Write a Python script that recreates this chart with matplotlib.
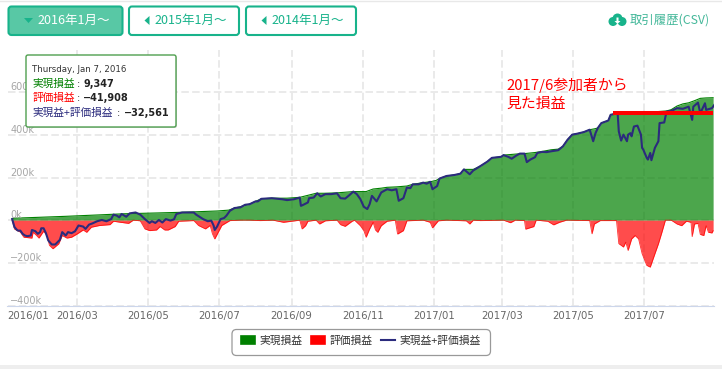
import matplotlib
matplotlib.use('Agg')
import matplotlib.pyplot as plt
import pandas as pd
from matplotlib.lines import Line2D
from matplotlib.patches import Patch, FancyBboxPatch, Circle, Polygon

plt.rcParams['font.family'] = ['Noto Sans CJK JP', 'DejaVu Sans']

# values in thousands, days counted from 2016/01/01
start = pd.Timestamp('2016-01-01')

realized_days = [4, 6, 20, 50, 80, 100, 130, 150, 165, 180, 190, 195, 200, 208, 213, 218, 227, 240,
                 251, 265, 272, 283, 297, 308, 314, 321, 326, 334, 343, 348, 357, 363, 368, 371, 377,
                 384, 389, 392, 400, 406, 412, 416, 424, 426, 437, 444, 453, 459, 467, 473, 477, 481,
                 485, 489, 495, 500, 504, 507, 510, 516, 518, 524, 540, 556, 566, 570, 575, 580, 585,
                 590, 595, 600, 606]
realized = [8, 9.3, 12, 18, 25, 30, 34, 37, 40, 43, 47, 57, 63, 75, 88, 100, 103, 103,
            107, 126, 126, 128, 134, 134, 146, 150, 154, 156, 160, 168, 176, 180, 186, 195, 207,
            212, 218, 238, 238, 253, 274, 292, 297, 305, 310, 312, 317, 322, 330, 333, 346, 377,
            401, 405, 413, 424, 428, 432, 455, 467, 494, 501, 505, 508, 512, 518, 535, 545, 550,
            560, 571, 573, 574]

unrealized_days = [4, 6, 11, 14, 21, 22, 25, 27, 31, 34, 36, 39, 44, 47, 51, 55, 60, 65, 68, 72,
                   79, 88, 91, 97, 104, 108, 114, 118, 122, 128, 131, 135, 138, 144, 147, 160, 164,
                   170, 174, 176, 178, 181, 184, 191, 200, 208, 217, 228, 237, 244, 251, 253, 256,
                   258, 265, 268, 273, 283, 286, 290, 296, 298, 303, 306, 308, 311, 314, 316, 318,
                   321, 326, 333, 335, 340, 343, 357, 363, 365, 370, 377, 394, 397, 400, 406, 426,
                   432, 436, 444, 445, 452, 454, 464, 469, 474, 480, 500, 502, 504, 509, 523, 525,
                   529, 531, 533, 536, 539, 542, 545, 549, 552, 556, 559, 562, 565, 570, 575, 579,
                   583, 587, 588, 590, 593, 595, 598, 600, 602, 605, 606]
unrealized = [0, -41.9, -56, -80, -84, -57, -72, -84, -52, -72, -118, -134, -111, -72, -84, -80, -64,
              -46, -57, -33, -25, -21, -5, -10, -15, 0, -3, -41, -49, -46, -30, -46, -46, -30, -5,
              -2, -25, -41, -25, -64, -88, -57, -25, -2, 0, 0, -2, 0, -10, -5, 0, -41, -26, -5, 0,
              -18, -3, 0, -21, -29, -5, 0, -26, -49, -80, -41, -10, -46, -57, -26, -5, 0, -65, -49,
              -3, 0, -10, -36, -3, 0, -3, -18, 0, -2, 0, -12, 0, -2, -42, -30, 0, -5, -22, -10, 0,
              -2, -64, -18, -2, -2, -110, -126, -103, -142, -88, -72, -88, -157, -212, -220, -157,
              -111, -57, 0, 0, -18, -26, -5, -10, -77, -18, -15, -67, -72, -26, -57, -60, -49]

total_days = [4, 6, 8, 9, 11, 13, 15, 17, 20, 21, 24, 26, 28, 29, 31, 33, 35, 38, 41, 45, 47, 50, 52,
              55, 58, 61, 65, 67, 70, 73, 77, 81, 85, 89, 91, 94, 96, 98, 102, 105, 110, 114, 118,
              122, 124, 127, 130, 133, 136, 140, 143, 145, 150, 160, 162, 168, 172, 175, 177, 178,
              180, 183, 186, 188, 191, 195, 200, 204, 208, 213, 215, 218, 227, 236, 240, 246, 251,
              252, 254, 258, 259, 263, 266, 269, 273, 278, 283, 286, 290, 294, 297, 300, 303, 306,
              309, 311, 313, 317, 321, 326, 330, 334, 336, 340, 343, 346, 348, 353, 357, 360, 363,
              365, 369, 371, 377, 384, 389, 392, 397, 400, 406, 412, 416, 424, 426, 430, 433, 437,
              440, 444, 446, 449, 453, 455, 459, 463, 467, 473, 477, 481, 485, 489, 495, 500, 503,
              505, 507, 510, 516, 518, 524, 525, 527, 529, 532, 533, 535, 536, 538, 541, 544, 545,
              546, 549, 550, 552, 553, 556, 559, 560, 564, 566, 570, 575, 580, 585, 588, 589, 593,
              595, 599, 600, 605, 607]
total = [5, -32.6, -45, -49, -49, -64, -72, -75, -72, -46, -52, -64, -56, -38, -38, -61, -95, -114,
         -114, -92, -56, -72, -56, -61, -52, -25, -30, -41, -21, -15, -5, 1, -5, 5, 26, 21, 13, 29,
         16, 32, 36, 26, 5, -13, -5, -13, 1, -11, 5, -2, 4, 29, 36, 36, 26, 5, -5, -2, -25, -46,
         -30, 5, 10, 21, 44, 57, 60, 72, 75, 88, 88, 100, 103, 98, 94, 98, 106,
         67, 72, 83, 103, 106, 126, 111, 122, 122, 126, 103, 101, 119, 134, 122, 99, 63,
         52, 75, 114, 88, 130, 145, 140, 145, 91, 103, 153, 150, 168, 168, 176, 171, 180,
         145, 160, 195, 207, 212, 218, 238, 215, 233, 253, 274, 292, 297, 305, 297, 288, 303,
         312, 312, 272, 284, 295, 315, 320, 319, 323, 328, 346, 377, 401, 405, 413, 424, 370,
         408, 432, 455, 467, 494, 501, 416, 373, 401, 370, 401, 408, 393, 439, 443, 401, 339,
         331, 292, 284, 315, 281, 339, 370, 455, 458, 509, 512, 525, 522, 532, 470, 532, 551,
         501, 548, 517, 525, 540]

# red line drawn over the chart by hand
marker_days = [520, 606]
marker_level = [500, 500]

y_ticks = [-400, -200, 0, 200, 400, 600, 800]
y_labels = ['−400k', '−200k', '0k', '200k', '400k', '600k', '']
x_ticks = ['2016-01-01', '2016-03-01', '2016-05-01', '2016-07-01', '2016-09-01', '2016-11-01',
           '2017-01-01', '2017-03-01', '2017-05-01', '2017-07-01']
x_labels = ['2016/01', '2016/03', '2016/05', '2016/07', '2016/09', '2016/11',
            '2017/01', '2017/03', '2017/05', '2017/07']

GREEN = '#008000'
RED = '#ff0000'
NAVY = '#2b2b7d'
TEAL = '#18b38b'


def to_dates(days):
    return start + pd.to_timedelta(days, unit='D')


fig = plt.figure(figsize=(7.22, 3.69), dpi=100)
ax = fig.add_axes([7.5 / 722, 1 - 305.5 / 369, 706.2 / 722, 256 / 369])

ax.fill_between(to_dates(realized_days), realized, 0, color=GREEN, alpha=0.7, lw=0, zorder=2)
ax.plot(to_dates(realized_days), realized, color=GREEN, lw=0.8, zorder=2)
ax.fill_between(to_dates(unrealized_days), unrealized, 0, color=RED, alpha=0.7, lw=0, zorder=2)
ax.plot(to_dates(unrealized_days), unrealized, color=RED, lw=0.6, alpha=0.8, zorder=2)
ax.plot(to_dates(total_days), total, color=NAVY, lw=1.5, zorder=3)
ax.plot(to_dates(marker_days), marker_level, color=RED, lw=2.9, solid_capstyle='butt', zorder=4)

ax.set_xlim(start, start + pd.Timedelta(days=606.5))
ax.set_ylim(-400, 800)
ax.set_yticks(y_ticks)
ax.set_yticklabels([])
ax.set_xticks(pd.to_datetime(x_ticks))
ax.set_xticklabels(x_labels, color='#666666', fontsize=7.3, family='DejaVu Sans')
ax.get_xticklabels()[0].set_ha('left')
ax.tick_params(axis='y', length=0)
ax.tick_params(axis='x', length=0, pad=4)
ax.grid(True, color='#e6e6e6', lw=1.2, ls=(0, (4.5, 2)), zorder=0)
ax.set_axisbelow(True)
for side in ['top', 'right', 'left']:
    ax.spines[side].set_visible(False)
ax.spines['bottom'].set_color('#ccd6eb')

for v, lab in zip(y_ticks, y_labels):
    ax.annotate(lab, (0, v), xycoords=ax.get_yaxis_transform(), xytext=(2, 0), textcoords='offset points',
                color='#a6a6a6', fontsize=7, family='DejaVu Sans', va='bottom', zorder=5)

handles = [Patch(facecolor=GREEN, edgecolor=GREEN, lw=1.2, joinstyle='round', label='実現損益'),
           Patch(facecolor=RED, edgecolor=RED, lw=1.2, joinstyle='round', label='評価損益'),
           Line2D([], [], color=NAVY, lw=1.5, label='実現益+評価損益')]
leg = fig.legend(handles=handles, loc='center', bbox_to_anchor=(361 / 722, 1 - 341 / 369), ncol=3,
                 fontsize=7.75, frameon=False, handlelength=1.3, handleheight=0.8, handletextpad=0.44,
                 columnspacing=0.77, borderpad=0, borderaxespad=0, labelcolor='#333333')
leg.set_zorder(6)

# page parts around the chart, in pixel coordinates
ui = fig.add_axes([0, 0, 1, 1], zorder=5)
ui.set_xlim(0, 722)
ui.set_ylim(369, 0)
ui.axis('off')
ui.patch.set_alpha(0)

ui.plot([0, 722], [0.5, 0.5], color='#e8e8e8', lw=1)
ui.fill_between([0, 722], 365, 369, color='#eeeeee', lw=0)
ui.add_patch(FancyBboxPatch((232, 329.5), 258.5, 26, boxstyle='round,pad=0,rounding_size=4.5',
                            fc='white', ec='#999999', lw=0.9))

buttons = [(8.5, 114, '#58c8a5', '2016年1月～', 37, 'white'),
           (129, 110, 'white', '2015年1月～', 154, TEAL),
           (246, 110, 'white', '2014年1月～', 271, TEAL)]
for bx, bw, face, lab, tx, tc in buttons:
    ui.add_patch(FancyBboxPatch((bx, 6.5), bw, 28.5, boxstyle='round,pad=0,rounding_size=3',
                                fc=face, ec=TEAL, lw=1.5))
    ui.text(tx, 20, lab, color=tc, fontsize=9, va='center', ha='left')
ui.add_patch(Polygon([(24, 18), (33, 18), (28.5, 23)], fc=TEAL, ec='none'))
ui.add_patch(Polygon([(149.5, 16), (149.5, 25), (144.5, 20.5)], fc=TEAL, ec='none'))
ui.add_patch(Polygon([(266.5, 16), (266.5, 25), (261.5, 20.5)], fc=TEAL, ec='none'))

# csv link with cloud icon
for cx, cy, r in [(613, 21.5, 4.5), (622, 21.5, 4.5), (617.5, 18.5, 5)]:
    ui.add_patch(Circle((cx, cy), r, fc=TEAL, ec='none'))
ui.add_patch(Polygon([(616.5, 17.5), (618.5, 17.5), (618.5, 21), (620.5, 21), (617.5, 24),
                      (614.5, 21), (616.5, 21)], fc='white', ec='none'))
ui.text(630, 20, '取引履歴(CSV)', color='#45b89a', fontsize=8.9, va='center', ha='left')

ui.text(506, 85, '2017/6参加者から', color=RED, fontsize=10.7, va='center', ha='left')
ui.text(506, 104, '見た損益', color=RED, fontsize=10.7, va='center', ha='left')

# tooltip
ui.add_patch(FancyBboxPatch((27, 56), 150, 72, boxstyle='round,pad=0,rounding_size=2',
                            fc='#888888', ec='none', alpha=0.35))
ui.add_patch(FancyBboxPatch((26, 55), 150, 72, boxstyle='round,pad=0,rounding_size=2',
                            fc='white', ec='#4f9f4f', lw=1))
ui.text(32.5, 69.5, 'Thursday, Jan 7, 2016', color='#333333', fontsize=6.25, family='DejaVu Sans', va='center')
rows = [(84, '実現損益', GREEN, 76.5, '9,347', 83),
        (98, '評価損益', RED, 76.5, '−41,908', 83),
        (113, '実現益+評価損益', NAVY, 117, '−32,561', 124)]
for ty, lab, col, cx, val, vx in rows:
    ui.text(32.5, ty, lab, color=col, fontsize=7.7, va='center')
    ui.text(cx, ty, ':', color='#333333', fontsize=7, family='DejaVu Sans', va='center')
    ui.text(vx, ty, val, color='#222222', fontsize=7, family='DejaVu Sans', weight='bold', va='center')

fig.savefig('out.png', dpi=100)
